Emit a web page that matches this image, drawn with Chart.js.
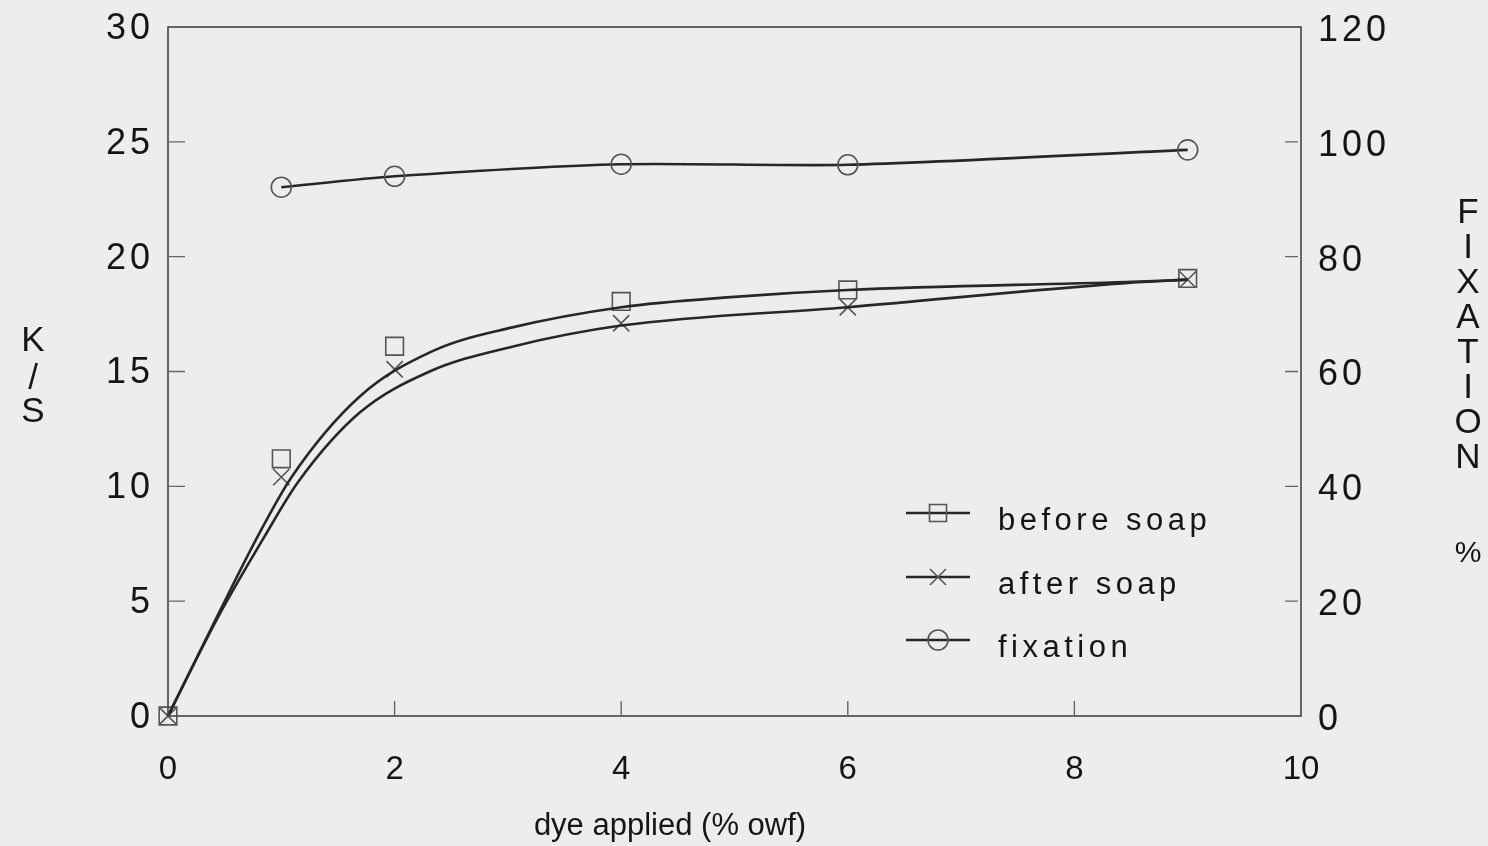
<!DOCTYPE html>
<html>
<head>
<meta charset="utf-8">
<script src="https://cdn.jsdelivr.net/npm/chart.js@4.4.1/dist/chart.umd.min.js"></script>
<style>
  html, body { margin: 0; padding: 0; background: #ededed; }
  #wrap { width: 1488px; height: 846px; position: relative; }
</style>
</head>
<body>
<div id="wrap"><canvas id="c" width="1488" height="846"></canvas></div>
<script>
// Measured colour strength (K/S) and fixation vs. dye applied
const doses = [0, 1, 2, 4, 6, 9];
const ksBefore = [0, 11.2, 16.1, 18.05, 18.55, 19.05];
const ksAfter = [0, 10.4, 15.1, 17.1, 17.8, 19.0];
const fixDoses = [1, 2, 4, 6, 9];
const fixation = [92.1, 94.0, 96.1, 96.0, 98.6];

// Fitted curves through the K/S data
const fitBeforeX = [0, 0.43, 0.8, 1.09, 1.69, 2.34, 3.02, 4.0, 5.0, 6.0, 8.45, 9.0];
const fitBeforeY = [0, 4.3, 7.9, 10.4, 13.9, 15.9, 16.9, 17.8, 18.25, 18.55, 18.9, 19.0];
const fitAfterX = [0, 0.43, 0.85, 1.15, 1.69, 2.31, 3.02, 4.0, 6.0, 8.45, 9.0];
const fitAfterY = [0, 4.2, 7.8, 10.2, 13.2, 15.0, 16.06, 17.0, 17.8, 18.85, 19.0];

// Axis ticks
const xTicks = [0, 2, 4, 6, 8, 10];
const ksTicks = [0, 5, 10, 15, 20, 25, 30];
const fixTicks = [0, 20, 40, 60, 80, 100, 120];

// Labels
const seriesNames = ['before soap', 'after soap', 'fixation'];
const xTitle = 'dye applied (% owf)';
const leftTitle = ['K', '/', 'S'];
const rightTitle = ['F', 'I', 'X', 'A', 'T', 'I', 'O', 'N'];
const rightUnit = '%';

const pts = (xs, ys) => xs.map((x, i) => ({ x: x, y: ys[i] }));

const LINE = '#272727';
const MARK = '#555555';
const TEXT = '#151515';
const FONT = '"Liberation Sans", Arial, Helvetica, sans-serif';

function drawMarker(ctx, style, x, y) {
  ctx.save();
  ctx.strokeStyle = MARK;
  ctx.lineWidth = 1.6;
  ctx.beginPath();
  if (style === 'rect') {
    ctx.rect(x - 8.5, y - 8.5, 17, 17);
  } else if (style === 'crossRot') {
    ctx.moveTo(x - 8, y - 8); ctx.lineTo(x + 8, y + 8);
    ctx.moveTo(x + 8, y - 8); ctx.lineTo(x - 8, y + 8);
  } else {
    ctx.arc(x, y, 10, 0, Math.PI * 2);
  }
  ctx.stroke();
  ctx.restore();
}

const decor = {
  id: 'decor',
  afterDatasetsDraw(chart) {
    const ctx = chart.ctx;
    const a = chart.chartArea;
    const sx = chart.scales.x, sl = chart.scales.y, sr = chart.scales.y2;
    ctx.save();

    // frame
    ctx.strokeStyle = '#444444';
    ctx.lineWidth = 1.6;
    ctx.strokeRect(a.left, a.top, a.right - a.left, a.bottom - a.top);

    // inward tick marks
    ctx.strokeStyle = '#666666';
    ctx.lineWidth = 1.4;
    ctx.beginPath();
    xTicks.slice(1, -1).forEach(v => {
      const px = sx.getPixelForValue(v);
      ctx.moveTo(px, a.bottom); ctx.lineTo(px, a.bottom - 15);
    });
    ksTicks.slice(1, -1).forEach(v => {
      const py = sl.getPixelForValue(v);
      ctx.moveTo(a.left, py); ctx.lineTo(a.left + 17, py);
    });
    fixTicks.slice(1, -1).forEach(v => {
      const py = sr.getPixelForValue(v);
      ctx.moveTo(a.right - 3, py); ctx.lineTo(a.right - 16, py);
    });
    ctx.stroke();

    ctx.fillStyle = TEXT;
    ctx.textBaseline = 'middle';

    // x tick labels
    ctx.font = '33px ' + FONT;
    ctx.letterSpacing = '0px';
    ctx.textAlign = 'center';
    xTicks.forEach(v => ctx.fillText(String(v), sx.getPixelForValue(v), 770));

    // y tick labels (wide spaced)
    ctx.font = '36px ' + FONT;
    ctx.letterSpacing = '4px';
    ctx.textAlign = 'right';
    ksTicks.forEach(v => ctx.fillText(String(v), 154, sl.getPixelForValue(v) + 2));
    ctx.textAlign = 'left';
    fixTicks.forEach(v => ctx.fillText(String(v), 1318, sr.getPixelForValue(v) + 4));

    // axis titles
    ctx.textAlign = 'center';
    ctx.font = '31px ' + FONT;
    ctx.letterSpacing = '0px';
    ctx.fillText(xTitle, 670, 826);
    ctx.font = '35px ' + FONT;
    const ly = [341, 379, 412];
    leftTitle.forEach((ch, i) => ctx.fillText(ch, 33, ly[i]));
    rightTitle.forEach((ch, i) => ctx.fillText(ch, 1468, 213 + i * 35));
    ctx.font = '30px ' + FONT;
    ctx.fillText(rightUnit, 1468, 554);

    // legend
    const styles = ['rect', 'crossRot', 'circle'];
    const rowY = [513, 577, 640];
    ctx.font = '31px ' + FONT;
    ctx.letterSpacing = '4.5px';
    ctx.textAlign = 'left';
    seriesNames.forEach((name, i) => {
      ctx.strokeStyle = LINE;
      ctx.lineWidth = 2.4;
      ctx.beginPath();
      ctx.moveTo(906, rowY[i]); ctx.lineTo(970, rowY[i]);
      ctx.stroke();
      drawMarker(ctx, styles[i], 938, rowY[i]);
      ctx.fillText(name, 998, rowY[i] + 8);
    });
    ctx.restore();
  }
};

new Chart(document.getElementById('c'), {
  type: 'scatter',
  data: {
    datasets: [
      { label: 'before soap fit', data: pts(fitBeforeX, fitBeforeY), yAxisID: 'y',
        showLine: true, borderColor: LINE, borderWidth: 2.6, pointRadius: 0,
        cubicInterpolationMode: 'monotone' },
      { label: 'after soap fit', data: pts(fitAfterX, fitAfterY), yAxisID: 'y',
        showLine: true, borderColor: LINE, borderWidth: 2.6, pointRadius: 0,
        cubicInterpolationMode: 'monotone' },
      { label: seriesNames[2], data: pts(fixDoses, fixation), yAxisID: 'y2',
        showLine: true, borderColor: LINE, borderWidth: 2.6, tension: 0.25,
        pointStyle: 'circle', pointRadius: 10, pointBorderWidth: 1.6,
        pointBorderColor: MARK, pointBackgroundColor: 'rgba(0,0,0,0)' },
      { label: seriesNames[0], data: pts(doses, ksBefore), yAxisID: 'y',
        showLine: false, pointStyle: 'rect', pointRadius: 12.5, pointBorderWidth: 1.6,
        pointBorderColor: MARK, pointBackgroundColor: 'rgba(0,0,0,0)' },
      { label: seriesNames[1], data: pts(doses, ksAfter), yAxisID: 'y',
        showLine: false, pointStyle: 'crossRot', pointRadius: 11.5, pointBorderWidth: 1.6,
        pointBorderColor: MARK, pointBackgroundColor: 'rgba(0,0,0,0)' }
    ]
  },
  options: {
    responsive: false,
    animation: false,
    clip: false,
    layout: { padding: { top: 27, left: 0, right: 0, bottom: 0 } },
    plugins: { legend: { display: false }, tooltip: { enabled: false } },
    scales: {
      x: {
        type: 'linear', min: 0, max: 10,
        afterBuildTicks: s => { s.ticks = xTicks.map(v => ({ value: v })); },
        afterFit: s => { s.height = 130; },
        ticks: { display: false },
        grid: { display: false },
        border: { display: false }
      },
      y: {
        type: 'linear', position: 'left', min: 0, max: 30,
        afterBuildTicks: s => { s.ticks = ksTicks.map(v => ({ value: v })); },
        afterFit: s => { s.width = 168; },
        ticks: { display: false },
        grid: { display: false },
        border: { display: false }
      },
      y2: {
        type: 'linear', position: 'right', min: 0, max: 120,
        afterBuildTicks: s => { s.ticks = fixTicks.map(v => ({ value: v })); },
        afterFit: s => { s.width = 187; },
        ticks: { display: false },
        grid: { display: false },
        border: { display: false }
      }
    }
  },
  plugins: [decor]
});
</script>
</body>
</html>
